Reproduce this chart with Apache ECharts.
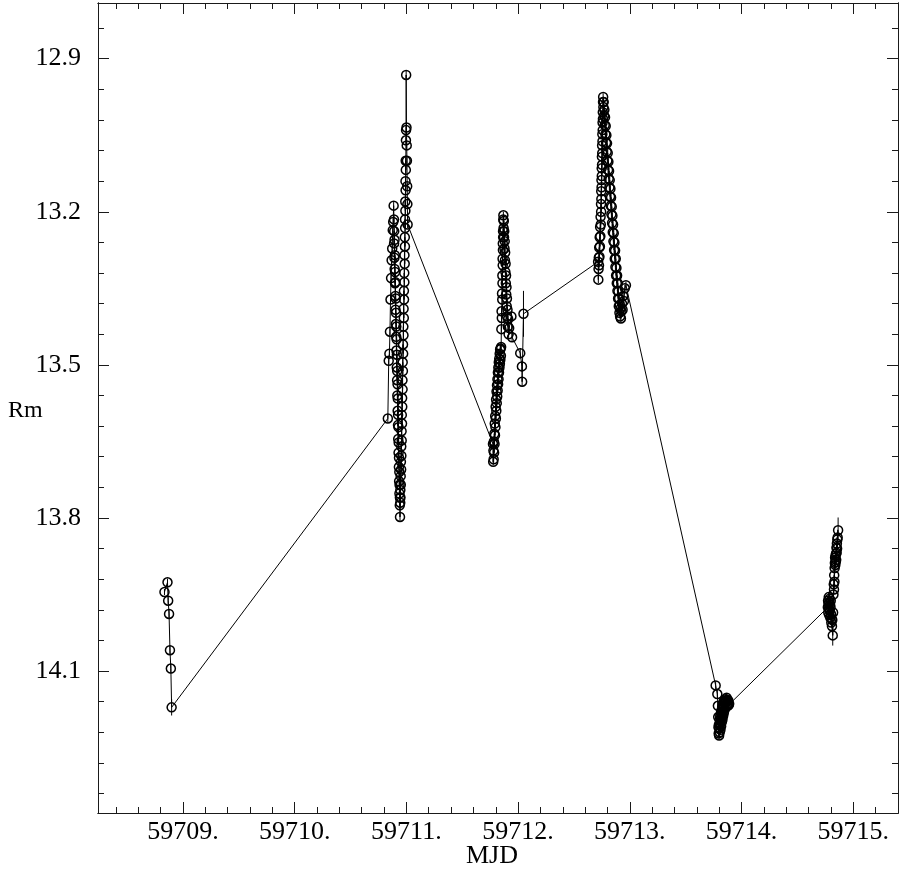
<!DOCTYPE html>
<html>
<head>
<meta charset="utf-8">
<script src="https://cdn.jsdelivr.net/npm/echarts@6/dist/echarts.min.js"></script>
<style>
html,body{margin:0;padding:0;background:#fff;}
#chart{width:899px;height:875px;}
</style>
</head>
<body>
<div id="chart"></div>
<script>
// ---- data rows: [MJD, Rm magnitude, error], one list per night ----
var night1 = [
  [59708.835,13.945,0.006],[59708.862,13.926,0.007],[59708.868,13.962,0.007],[59708.876,13.988,0.008],
  [59708.884,14.059,0.008],[59708.892,14.095,0.009],[59708.899,14.171,0.016]
];

var night2 = [
  [59710.834,13.605,0.008],[59710.842,13.492,0.007],[59710.848,13.478,0.007],[59710.853,13.435,0.007],
  [59710.858,13.372,0.007],[59710.863,13.330,0.007],[59710.868,13.295,0.007],[59710.873,13.272,0.007],
  [59710.878,13.236,0.007],[59710.882,13.220,0.007],[59710.886,13.188,0.007],
  [59710.889,13.215,0.007],[59710.890,13.262,0.007],[59710.891,13.238,0.007],[59710.893,13.290,0.007],
  [59710.894,13.255,0.007],[59710.895,13.312,0.007],[59710.897,13.285,0.007],[59710.898,13.340,0.007],
  [59710.899,13.318,0.007],[59710.901,13.365,0.007],[59710.902,13.338,0.007],[59710.903,13.392,0.007],
  [59710.905,13.370,0.007],[59710.906,13.420,0.007],[59710.907,13.398,0.007],[59710.909,13.445,0.007],
  [59710.910,13.425,0.007],[59710.911,13.472,0.007],[59710.913,13.450,0.007],[59710.914,13.505,0.007],
  [59710.915,13.480,0.007],[59710.917,13.530,0.007],[59710.918,13.512,0.007],[59710.919,13.560,0.007],
  [59710.921,13.538,0.007],[59710.922,13.590,0.007],[59710.923,13.566,0.007],[59710.925,13.618,0.007],
  [59710.926,13.598,0.007],[59710.927,13.645,0.007],[59710.929,13.622,0.007],[59710.930,13.672,0.007],
  [59710.931,13.652,0.007],[59710.933,13.700,0.007],[59710.934,13.682,0.007],[59710.935,13.728,0.007],
  [59710.937,13.710,0.007],[59710.938,13.752,0.007],[59710.939,13.735,0.007],[59710.941,13.775,0.008],
  [59710.942,13.760,0.008],[59710.943,13.798,0.009],
  [59710.945,13.770,0.008],[59710.946,13.745,0.007],[59710.947,13.760,0.007],[59710.949,13.718,0.007],
  [59710.950,13.735,0.007],[59710.951,13.690,0.007],[59710.953,13.705,0.007],[59710.954,13.660,0.007],
  [59710.955,13.678,0.007],[59710.957,13.630,0.007],[59710.958,13.648,0.007],[59710.959,13.598,0.007],
  [59710.961,13.615,0.007],[59710.962,13.565,0.007],[59710.963,13.582,0.007],[59710.965,13.530,0.007],
  [59710.966,13.548,0.007],[59710.967,13.495,0.007],[59710.969,13.512,0.007],[59710.970,13.460,0.007],
  [59710.971,13.478,0.007],[59710.973,13.425,0.007],[59710.974,13.442,0.007],[59710.975,13.390,0.007],
  [59710.977,13.408,0.007],[59710.978,13.355,0.007],[59710.979,13.372,0.007],[59710.981,13.320,0.007],
  [59710.982,13.338,0.007],[59710.983,13.285,0.007],[59710.985,13.302,0.007],[59710.986,13.250,0.007],
  [59710.987,13.268,0.007],[59710.988,13.215,0.007],[59710.989,13.232,0.007],[59710.990,13.180,0.007],
  [59710.991,13.198,0.007],[59710.992,13.140,0.007],[59710.993,13.158,0.007],[59710.994,13.100,0.007],
  [59710.995,13.118,0.007],[59710.996,13.060,0.007],[59710.997,13.040,0.007],[59710.998,12.932,0.009],
  [59711.001,13.035,0.007],[59711.003,13.070,0.007],[59711.005,13.100,0.007],[59711.007,13.150,0.007],
  [59711.009,13.185,0.007],[59711.011,13.225,0.007]
];

var night3 = [
  [59711.775,13.655,0.007],[59711.777,13.690,0.007],[59711.779,13.668,0.007],[59711.781,13.685,0.007],
  [59711.783,13.650,0.007],[59711.785,13.672,0.007],[59711.787,13.635,0.007],[59711.789,13.655,0.007],
  [59711.791,13.615,0.007],[59711.793,13.638,0.007],[59711.795,13.600,0.007],[59711.797,13.622,0.007],
  [59711.799,13.582,0.007],[59711.801,13.605,0.007],[59711.803,13.568,0.007],[59711.805,13.590,0.007],
  [59711.807,13.552,0.007],[59711.809,13.575,0.007],[59711.811,13.540,0.007],[59711.813,13.562,0.007],
  [59711.815,13.528,0.007],[59711.817,13.550,0.007],[59711.819,13.515,0.007],[59711.821,13.538,0.007],
  [59711.823,13.505,0.007],[59711.825,13.528,0.007],[59711.827,13.495,0.007],[59711.829,13.515,0.007],
  [59711.831,13.488,0.007],[59711.833,13.505,0.007],[59711.835,13.478,0.007],[59711.837,13.498,0.007],
  [59711.839,13.470,0.007],[59711.841,13.490,0.007],[59711.843,13.468,0.007],[59711.846,13.482,0.007],
  [59711.848,13.465,0.007],
  [59711.850,13.430,0.007],[59711.852,13.395,0.007],[59711.854,13.408,0.007],[59711.856,13.360,0.007],
  [59711.858,13.372,0.007],[59711.859,13.325,0.007],[59711.860,13.340,0.007],[59711.861,13.292,0.007],
  [59711.862,13.305,0.007],[59711.863,13.262,0.007],[59711.864,13.275,0.007],[59711.865,13.238,0.007],
  [59711.866,13.250,0.007],[59711.867,13.215,0.007],[59711.868,13.207,0.007],
  [59711.870,13.232,0.007],[59711.872,13.218,0.007],[59711.874,13.250,0.007],[59711.876,13.238,0.007],
  [59711.878,13.272,0.007],[59711.880,13.258,0.007],[59711.882,13.295,0.007],[59711.884,13.280,0.007],
  [59711.886,13.318,0.007],[59711.888,13.302,0.007],[59711.890,13.340,0.007],[59711.892,13.325,0.007],
  [59711.894,13.362,0.007],[59711.896,13.348,0.007],[59711.898,13.385,0.007],[59711.900,13.370,0.007],
  [59711.902,13.405,0.007],[59711.905,13.392,0.007],[59711.908,13.425,0.007],[59711.911,13.410,0.007],
  [59711.915,13.440,0.007],[59711.920,13.428,0.007],
  [59711.940,13.405,0.008],[59711.946,13.446,0.008],[59712.019,13.477,0.010],[59712.034,13.503,0.010],
  [59712.036,13.533,0.010],[59712.048,13.400,0.045]
];

var night4 = [
  [59712.716,13.298,0.007],[59712.718,13.333,0.007],[59712.720,13.312,0.007],[59712.722,13.290,0.007],
  [59712.724,13.305,0.007],[59712.726,13.270,0.007],[59712.728,13.288,0.007],[59712.730,13.250,0.007],
  [59712.732,13.268,0.007],[59712.734,13.230,0.007],[59712.736,13.248,0.007],[59712.738,13.210,0.007],
  [59712.740,13.225,0.007],[59712.742,13.185,0.007],[59712.743,13.200,0.007],[59712.744,13.160,0.007],
  [59712.745,13.175,0.007],[59712.746,13.138,0.007],[59712.747,13.152,0.007],[59712.748,13.115,0.007],
  [59712.749,13.130,0.007],[59712.750,13.092,0.007],[59712.751,13.108,0.007],[59712.752,13.070,0.007],
  [59712.753,13.085,0.007],[59712.754,13.048,0.007],[59712.755,13.062,0.007],[59712.756,13.025,0.007],
  [59712.757,13.040,0.007],[59712.758,13.005,0.007],[59712.759,13.018,0.007],[59712.760,12.985,0.007],
  [59712.761,12.975,0.007],
  [59712.763,12.995,0.007],[59712.766,12.985,0.007],[59712.769,13.012,0.007],[59712.772,13.000,0.007],
  [59712.775,13.030,0.007],[59712.778,13.015,0.007],[59712.781,13.048,0.007],[59712.784,13.032,0.007],
  [59712.787,13.065,0.007],[59712.790,13.050,0.007],[59712.793,13.082,0.007],[59712.796,13.066,0.007],
  [59712.799,13.100,0.007],[59712.802,13.085,0.007],[59712.805,13.118,0.007],[59712.808,13.102,0.007],
  [59712.811,13.135,0.007],[59712.814,13.120,0.007],[59712.817,13.152,0.007],[59712.820,13.138,0.007],
  [59712.823,13.170,0.007],[59712.826,13.155,0.007],[59712.829,13.188,0.007],[59712.832,13.172,0.007],
  [59712.835,13.205,0.007],[59712.838,13.190,0.007],[59712.841,13.222,0.007],[59712.844,13.208,0.007],
  [59712.847,13.240,0.007],[59712.850,13.225,0.007],[59712.853,13.258,0.007],[59712.856,13.242,0.007],
  [59712.859,13.275,0.007],[59712.862,13.260,0.007],[59712.865,13.292,0.007],[59712.868,13.276,0.007],
  [59712.871,13.308,0.007],[59712.874,13.292,0.007],[59712.877,13.325,0.007],[59712.880,13.310,0.007],
  [59712.883,13.340,0.007],[59712.886,13.325,0.007],[59712.889,13.355,0.007],[59712.892,13.340,0.007],
  [59712.895,13.370,0.007],[59712.898,13.356,0.007],[59712.901,13.385,0.007],[59712.904,13.370,0.007],
  [59712.907,13.398,0.007],[59712.910,13.382,0.007],[59712.913,13.405,0.007],[59712.916,13.390,0.007],
  [59712.920,13.409,0.008],[59712.925,13.395,0.007],[59712.930,13.380,0.007],[59712.935,13.392,0.007],
  [59712.940,13.365,0.007],[59712.947,13.375,0.007],[59712.955,13.350,0.007],[59712.965,13.344,0.007]
];

var night5 = [
  [59713.768,14.128,0.008],[59713.783,14.145,0.008],[59713.788,14.168,0.008],[59713.791,14.190,0.008],
  [59713.793,14.210,0.008],[59713.795,14.222,0.008],[59713.797,14.205,0.008],[59713.799,14.226,0.008],
  [59713.801,14.212,0.008],[59713.803,14.195,0.008],[59713.805,14.220,0.008],[59713.807,14.204,0.008],
  [59713.809,14.188,0.008],[59713.811,14.215,0.008],[59713.813,14.198,0.008],[59713.815,14.182,0.008],
  [59713.817,14.208,0.008],[59713.819,14.192,0.008],[59713.821,14.176,0.008],[59713.823,14.200,0.008],
  [59713.825,14.185,0.008],[59713.827,14.170,0.008],[59713.829,14.195,0.008],[59713.831,14.178,0.008],
  [59713.833,14.165,0.008],[59713.835,14.188,0.008],[59713.837,14.172,0.008],[59713.839,14.160,0.008],
  [59713.841,14.182,0.008],[59713.843,14.168,0.008],[59713.846,14.158,0.008],[59713.849,14.175,0.008],
  [59713.852,14.162,0.008],[59713.855,14.155,0.008],[59713.858,14.170,0.008],[59713.862,14.158,0.008],
  [59713.866,14.152,0.008],[59713.870,14.166,0.008],[59713.874,14.156,0.008],[59713.878,14.168,0.008],
  [59713.882,14.158,0.008],[59713.886,14.166,0.008],[59713.889,14.164,0.008]
];

var night6 = [
  [59714.772,13.975,0.008],[59714.774,13.962,0.008],[59714.776,13.985,0.008],[59714.778,13.968,0.008],
  [59714.780,13.955,0.008],[59714.782,13.978,0.008],[59714.784,13.990,0.008],[59714.786,13.965,0.008],
  [59714.788,13.958,0.008],[59714.790,13.982,0.008],[59714.792,13.970,0.008],[59714.794,13.995,0.008],
  [59714.796,13.975,0.008],[59714.798,13.962,0.008],[59714.800,13.988,0.008],[59714.803,14.005,0.010],
  [59714.806,13.998,0.010],[59714.809,14.012,0.012],[59714.812,14.000,0.012],[59714.816,14.030,0.020],
  [59714.819,13.985,0.010],[59714.822,13.950,0.010],[59714.825,13.930,0.010],[59714.827,13.940,0.010],
  [59714.829,13.912,0.010],[59714.831,13.925,0.010],[59714.833,13.898,0.010],[59714.835,13.888,0.010],
  [59714.837,13.878,0.010],[59714.839,13.892,0.010],[59714.841,13.874,0.010],[59714.843,13.886,0.010],
  [59714.845,13.870,0.010],[59714.847,13.882,0.010],[59714.849,13.858,0.010],[59714.851,13.868,0.010],
  [59714.853,13.850,0.012],[59714.855,13.860,0.012],[59714.857,13.842,0.012],[59714.860,13.838,0.015],
  [59714.864,13.824,0.025]
];

// ---- axis ticks / labels ----
var xMajorTicks = [59709, 59710, 59711, 59712, 59713, 59714, 59715];
var yMajorTicks = [12.9, 13.2, 13.5, 13.8, 14.1];
var xMin = 59708.24, xMax = 59715.40;
var yMin = 12.791, yMax = 14.378;
var xMinorStep = 0.2, yMinorStep = 0.06;

function minorList(min, max, step, anchor) {
  var out = [];
  var k0 = Math.ceil((min - anchor) / step - 1e-9);
  for (var k = k0; anchor + k * step < max - 1e-9; k++) {
    out.push(Math.round((anchor + k * step) * 1000) / 1000);
  }
  return out;
}
var xMinorTicks = minorList(xMin, xMax, xMinorStep, 59709);
var yMinorTicks = minorList(yMin, yMax, yMinorStep, 12.9);

// ---- combined series (time ordered) ----
var nights = [night1, night2, night3, night4, night5, night6];
var points = [], errs = [];
nights.forEach(function (night) {
  night.forEach(function (r) {
    points.push([r[0], r[1]]);
    errs.push([r[0], r[1], r[2]]);
  });
});

var FONT = 'Liberation Serif';
var axisCol = '#1a1a1a';

function xAx(pos, ticks, len, labels) {
  return {
    type: 'value', min: xMin, max: xMax, position: pos,
    axisLine: { show: true, onZero: false, lineStyle: { color: axisCol, width: 1 } },
    axisTick: { show: true, inside: true, length: len, customValues: ticks, lineStyle: { color: axisCol, width: 1 } },
    axisLabel: labels ? {
      show: true, customValues: ticks, margin: 6, color: '#000',
      fontFamily: FONT, fontSize: 26,
      formatter: function (v) { return Math.round(v) + '.'; }
    } : { show: false },
    splitLine: { show: false }
  };
}
function yAx(pos, ticks, len, labels) {
  return {
    type: 'value', inverse: true, min: yMin, max: yMax, position: pos,
    axisLine: { show: true, onZero: false, lineStyle: { color: axisCol, width: 1 } },
    axisTick: { show: true, inside: true, length: len, customValues: ticks, lineStyle: { color: axisCol, width: 1 } },
    axisLabel: labels ? {
      show: true, customValues: ticks, margin: 17, color: '#000',
      fontFamily: FONT, fontSize: 26,
      formatter: function (v) { return v.toFixed(1); }
    } : { show: false },
    splitLine: { show: false }
  };
}

var chart = echarts.init(document.getElementById('chart'), null, { renderer: 'canvas' });
chart.setOption({
  animation: false,
  backgroundColor: '#fff',
  grid: { left: 98, right: 1, top: 3, bottom: 62, containLabel: false },
  xAxis: [
    xAx('bottom', xMajorTicks, 11, true),
    xAx('bottom', xMinorTicks, 6, false),
    xAx('top', xMajorTicks, 11, false),
    xAx('top', xMinorTicks, 6, false)
  ],
  yAxis: [
    yAx('left', yMajorTicks, 11, true),
    yAx('left', yMinorTicks, 6, false),
    yAx('right', yMajorTicks, 11, false),
    yAx('right', yMinorTicks, 6, false)
  ],
  graphic: [
    { type: 'text', left: 8, top: 399, style: { text: 'Rm', fontFamily: FONT, fontSize: 24, fill: '#000' } },
    { type: 'text', left: 466, top: 843, style: { text: 'MJD', fontFamily: FONT, fontSize: 26, fill: '#000' } }
  ],
  series: [
    {
      type: 'line', xAxisIndex: 0, yAxisIndex: 0,
      data: points,
      symbol: 'circle', symbolSize: 9, showAllSymbol: true,
      lineStyle: { color: '#000', width: 1 },
      itemStyle: { color: 'rgba(0,0,0,0)', borderColor: '#000', borderWidth: 1.5 },
      emphasis: { disabled: true },
      z: 2
    },
    {
      type: 'custom', xAxisIndex: 0, yAxisIndex: 0,
      data: errs,
      renderItem: function (params, api) {
        var t = api.value(0), m = api.value(1), e = api.value(2);
        var p1 = api.coord([t, m - e]);
        var p2 = api.coord([t, m + e]);
        return {
          type: 'line',
          shape: { x1: p1[0], y1: p1[1], x2: p2[0], y2: p2[1] },
          style: { stroke: '#000', lineWidth: 1 }
        };
      },
      z: 3
    }
  ]
});
</script>
</body>
</html>
